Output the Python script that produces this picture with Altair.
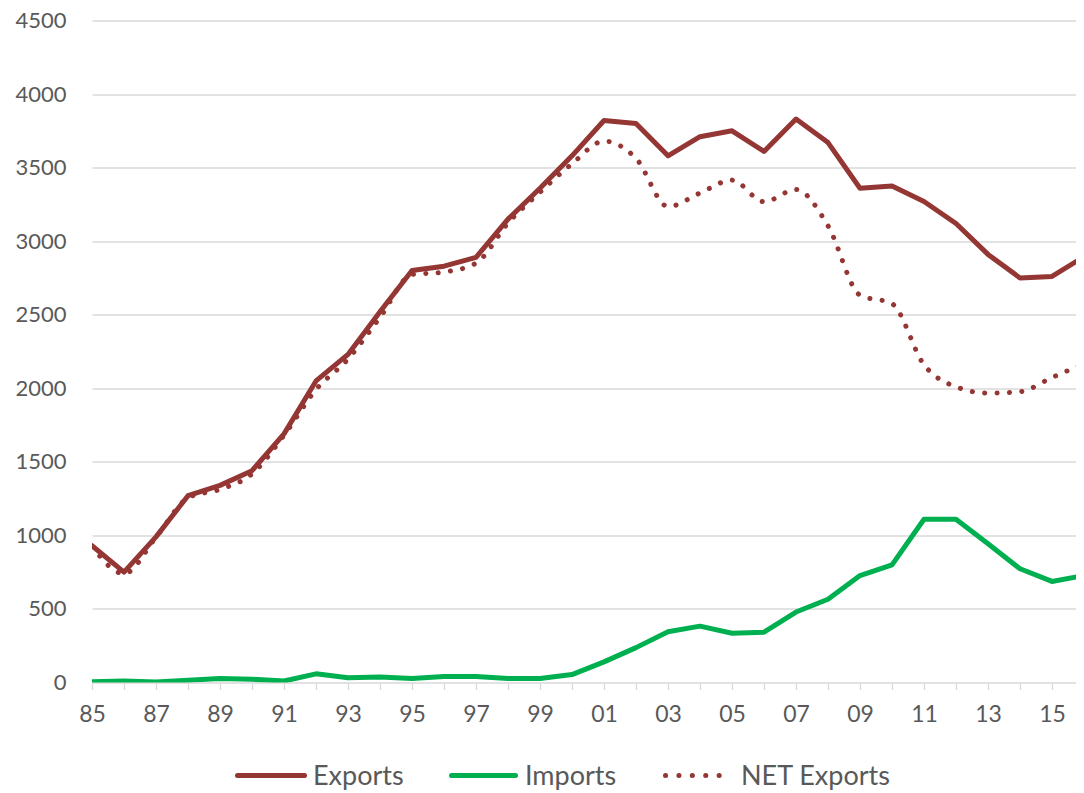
import altair as alt
import pandas as pd

years = list(range(1985, 2017))
series = ["Exports", "Imports", "NET Exports"]
colors = ["#943634", "#00B050", "#943634"]

exports = [930, 750, 990, 1270, 1340, 1440, 1690, 2050, 2230, 2520, 2800, 2830, 2890, 3150, 3360,
           3580, 3820, 3800, 3580, 3710, 3750, 3610, 3830, 3670, 3360, 3375, 3270, 3120, 2910, 2750,
           2760, 2895]
imports = [5, 10, 3, 15, 27, 22, 10, 59, 32, 38, 27, 40, 40, 27, 27, 54, 140, 237, 345, 383,
           335, 342, 479, 566, 727, 800, 1110, 1110, 943, 773, 687, 727]
net_exports = [925, 740, 987, 1255, 1313, 1418, 1680, 1991, 2198, 2482, 2773, 2790, 2850, 3123,
               3333, 3526, 3680, 3563, 3235, 3327, 3415, 3268, 3351, 3104, 2633, 2575, 2160, 2010,
               1967, 1977, 2073, 2168]

y_ticks = list(range(0, 4501, 500))

rows = []
for name, vals in zip(series, [exports, imports, net_exports]):
    for yr, v in zip(years, vals):
        rows.append({"year": yr, "value": v, "series": name})
df = pd.DataFrame(rows)

FONT = "Lato"
TXT = "#595959"
GRID = "#d9d9d9"

x_enc = alt.X(
    "year:Q",
    scale=alt.Scale(domain=[1985, 2015.75], nice=False, zero=False),
    axis=alt.Axis(
        values=years[:-1],
        labelExpr="datum.value % 2 == 1 ? substring(toString(datum.value), 2) : ''",
        title=None, grid=False, domain=False, ticks=True,
        tickColor=GRID, tickSize=7, tickWidth=1.3,
        labelPadding=14, labelFont=FONT, labelFontSize=23, labelColor=TXT,
        labelOverlap=False, labelFlush=False,
    ),
)
y_enc = alt.Y(
    "value:Q",
    scale=alt.Scale(domain=[0, 4500], nice=False),
    axis=alt.Axis(
        values=y_ticks, format="d", title=None, grid=True, gridColor=GRID, gridWidth=1.3,
        domain=False, ticks=False, labelPadding=26, labelFont=FONT, labelFontSize=22,
        labelColor=TXT,
    ),
)

base = alt.Chart(df)

solid = base.transform_filter(
    alt.FieldOneOfPredicate(field="series", oneOf=series[:2])
).mark_line(strokeWidth=5, strokeCap="round", strokeJoin="round", clip=True).encode(
    x=x_enc, y=y_enc,
    color=alt.Color("series:N", scale=alt.Scale(domain=series, range=colors), legend=None),
)

net = base.transform_filter(alt.datum.series == series[2]).mark_line(
    strokeWidth=5, strokeCap="round", strokeDash=[0.1, 12.3], interpolate="monotone",
    clip=True, color=colors[2],
).encode(x=x_enc, y=y_enc)


def legend_item(name, color, x0, x1, tx, dash=None):
    d = pd.DataFrame({"series": [name]})
    kw = dict(strokeWidth=5, strokeCap="round", color=color)
    if dash:
        kw["strokeDash"] = dash
    rule = alt.Chart(d).mark_rule(**kw).encode(
        x=alt.value(x0), x2=alt.value(x1), y=alt.value(755)
    )
    text = alt.Chart(d).mark_text(
        align="left", baseline="middle", font=FONT, fontSize=27, color=TXT
    ).encode(x=alt.value(tx), y=alt.value(756), text="series:N")
    return rule + text


leg1 = legend_item(series[0], colors[0], 145.5, 212.5, 221)
leg2 = legend_item(series[1], colors[1], 359.5, 423.5, 433)
leg3 = legend_item(series[2], colors[2], 573.5, 640.5, 649, dash=[0.1, 13.3])

chart = alt.layer(solid, net, leg1, leg2, leg3).properties(
    width=984, height=662,
    autosize=alt.AutoSizeParams(type="none"),
    padding={"left": 84, "top": 12.5, "right": 0, "bottom": 111},
    background="white",
).configure_view(strokeWidth=0)

chart.save("out.html", embed_options={"renderer": "svg", "actions": False})
